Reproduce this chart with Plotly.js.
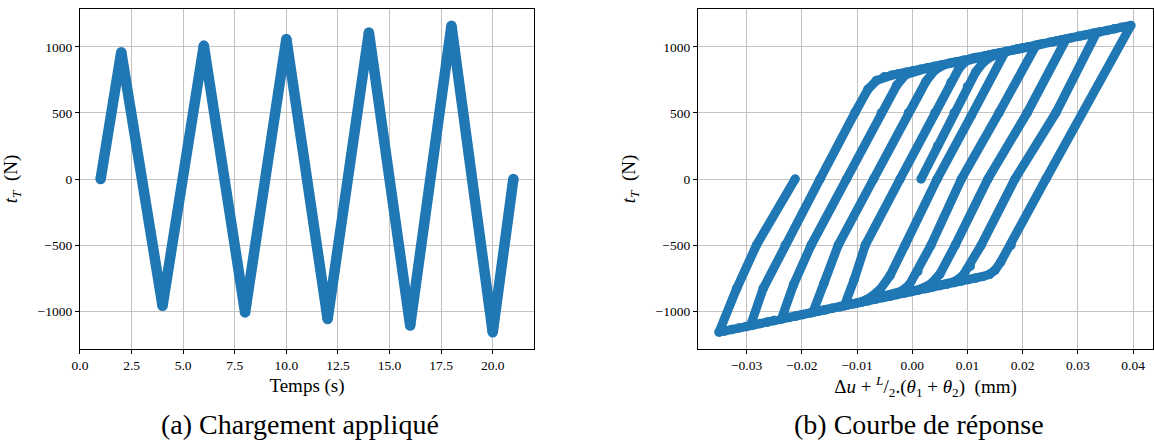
<!DOCTYPE html>
<html>
<head>
<meta charset="utf-8">
<script src="https://cdn.plot.ly/plotly-3.0.1.min.js"></script>
<style>
  html, body { margin: 0; padding: 0; background: #ffffff; }
  #chart { width: 1154px; height: 441px; }
</style>
</head>
<body>
<div id="chart"></div>
<script>
// ---------- (a) Applied loading ----------
const loadTime = [1, 2, 4, 6, 8, 10, 12, 14, 16, 18, 20, 21];
const loadForce = [0, 960, -960, 1010, -1010, 1060, -1060, 1110, -1110, 1160, -1160, 0];

// ---------- (b) Response curve: branches ----------
// initial loading 0 -> +960
const brI_x = [0.0016, 0.0046, 0.0076, 0.0100, 0.0115, 0.0128, 0.0142, 0.0155, 0.0168];
const brI_y = [0, 250, 500, 700, 810, 880, 925, 945, 960];
// +960 -> -960
const brD1_x = [0.0107, 0.0045, -0.0013, -0.0040, -0.0058, -0.0075, -0.0095, -0.0123];
const brD1_y = [480, 0, -500, -730, -835, -895, -935, -960];
// -960 -> +1010
const brA1_x = [-0.0105, -0.0085, -0.0022, 0.0041, 0.0070, 0.0085, 0.0098, 0.0115, 0.0140, 0.0170, 0.0200, 0.0224];
const brA1_y = [-760, -500, 0, 500, 730, 840, 895, 920, 940, 965, 992, 1010];
// +1010 -> -1010
const brD2_x = [0.0157, 0.0089, 0.0034, 0.0010, -0.0005, -0.0020, -0.0040, -0.0070, -0.0100, -0.0130, -0.0155, -0.0180];
const brD2_y = [500, 0, -500, -700, -800, -850, -878, -905, -939, -966, -988, -1010];
// -1010 -> +1060
const brA2_x = [-0.0160, -0.0134, -0.0070, -0.0007, 0.0025, 0.0040, 0.0055, 0.0075, 0.0110, 0.0150, 0.0190, 0.0230, 0.0255, 0.0279];
const brA2_y = [-790, -500, 0, 500, 740, 820, 860, 882, 914, 949, 984, 1018, 1040, 1060];
// +1060 -> -1060
const brD3_x = [0.0208, 0.0137, 0.0078, 0.0050, 0.0035, 0.0020, 0.0000, -0.0040, -0.0080, -0.0120, -0.0160, -0.0200, -0.0237];
const brD3_y = [500, 0, -500, -720, -790, -825, -850, -886, -921, -956, -992, -1027, -1060];
// -1060 -> +1110
const brA3_x = [-0.0215, -0.0183, -0.0119, -0.0056, -0.0028, -0.0012, 0.0005, 0.0030, 0.0070, 0.0110, 0.0150, 0.0190, 0.0230, 0.0270, 0.0305, 0.0334];
const brA3_y = [-800, -500, 0, 500, 710, 790, 818, 843, 878, 914, 949, 984, 1018, 1053, 1083, 1110];
// +1110 -> -1110
const brD4_x = [0.0260, 0.0186, 0.0125, 0.0105, 0.0092, 0.0078, 0.0060, 0.0030, -0.0010, -0.0050, -0.0090, -0.0130, -0.0170, -0.0210, -0.0250, -0.0293];
const brD4_y = [500, 0, -500, -660, -730, -775, -797, -825, -860, -895, -930, -966, -1001, -1036, -1072, -1110];
// -1110 -> +1160 (upper envelope dots)
const brA4_x = [-0.0270, -0.0230, -0.0167, -0.0104, -0.0080, -0.0065, -0.0050, -0.0037, -0.0024, -0.0011, 0.0002, 0.0015,
  0.0028, 0.0041, 0.0054, 0.0067, 0.0080, 0.0093, 0.0106, 0.0119, 0.0132, 0.0145, 0.0158, 0.0171, 0.0184, 0.0197,
  0.0210, 0.0223, 0.0236, 0.0249, 0.0262, 0.0275, 0.0288, 0.0301, 0.0314, 0.0327, 0.0340, 0.0353, 0.0366, 0.0379, 0.0396];
const brA4_y = [-830, -500, 0, 500, 680, 745, 775, 786, 797, 809, 820, 831,
  843, 854, 865, 876, 888, 899, 910, 922, 933, 944, 956, 967, 978, 990,
  1001, 1012, 1024, 1035, 1046, 1057, 1069, 1080, 1091, 1103, 1114, 1125, 1137, 1148, 1163];
// +1160 -> -1160 (lower envelope dots)
const brD5_x = [0.0242, 0.0179, 0.0160, 0.0150, 0.0140, 0.0128, 0.0115, 0.0102, 0.0089, 0.0076, 0.0063, 0.0050, 0.0037,
  0.0024, 0.0011, -0.0002, -0.0015, -0.0028, -0.0041, -0.0054, -0.0067, -0.0080, -0.0093, -0.0106, -0.0119, -0.0132,
  -0.0145, -0.0158, -0.0171, -0.0184, -0.0197, -0.0210, -0.0223, -0.0236, -0.0249, -0.0262, -0.0275, -0.0288,
  -0.0301, -0.0314, -0.0327, -0.0340, -0.0350];
const brD5_y = [0, -500, -630, -690, -722, -738, -750, -761, -773, -784, -796, -807, -819,
  -830, -842, -853, -865, -876, -888, -899, -911, -922, -934, -945, -956, -968,
  -979, -991, -1002, -1014, -1025, -1037, -1048, -1060, -1071, -1083, -1094, -1106,
  -1117, -1128, -1140, -1151, -1160];
// -1160 -> 0 (final)
const brA5_x = [-0.0318, -0.0282, -0.0212];
const brA5_y = [-830, -500, 0];

const respX = [].concat(brI_x, brD1_x, brA1_x, brD2_x, brA2_x, brD3_x, brA3_x, brD4_x, brA4_x, brD5_x, brA5_x);
const respY = [].concat(brI_y, brD1_y, brA1_y, brD2_y, brA2_y, brD3_y, brA3_y, brD4_y, brA4_y, brD5_y, brA5_y);

const blue = '#1f77b4';
const tickFont = { family: 'Liberation Serif, serif', size: 13.5, color: '#000' };
const titleFont = { family: 'Liberation Serif, serif', size: 19, color: '#000' };

const traces = [
  { x: loadTime, y: loadForce, type: 'scatter', mode: 'lines+markers',
    line: { color: blue, width: 10.5 }, marker: { color: blue, size: 10.5 },
    xaxis: 'x', yaxis: 'y', hoverinfo: 'skip', showlegend: false },
  { x: respX, y: respY, type: 'scatter', mode: 'lines+markers',
    line: { color: blue, width: 9 }, marker: { color: blue, size: 9.5 },
    xaxis: 'x2', yaxis: 'y2', hoverinfo: 'skip', showlegend: false }
];

function axisBase() {
  return {
    showgrid: true, gridcolor: '#bdbdbd', gridwidth: 0.9,
    zeroline: false, showline: true, linecolor: '#000', linewidth: 1.1, mirror: true,
    ticks: 'outside', ticklen: 4, tickwidth: 1, tickcolor: '#000',
    tickfont: tickFont
  };
}

const layout = {
  width: 1154, height: 441,
  margin: { l: 0, r: 0, t: 0, b: 0 },
  paper_bgcolor: '#fff', plot_bgcolor: '#fff',
  showlegend: false,
  xaxis: Object.assign(axisBase(), {
    domain: [0.06932, 0.46274], range: [0, 22], tick0: 0, dtick: 2.5, tickformat: '.1f',
    anchor: 'y', title: { text: 'Temps (s)', font: titleFont, standoff: 6 }
  }),
  yaxis: Object.assign(axisBase(), {
    domain: [0.20862, 0.97959], range: [-1287, 1287], tick0: 0, dtick: 500,
    anchor: 'x', title: { text: '<i>t</i><sub><i>T</i></sub>  (N)', font: titleFont, standoff: 14 }
  }),
  xaxis2: Object.assign(axisBase(), {
    domain: [0.60485, 0.99913], range: [-0.0388, 0.0436], tick0: 0, dtick: 0.01, tickformat: '.2f',
    anchor: 'y2',
    title: { text: 'Δ<i>u</i> + <sup><i>L</i></sup>/<sub>2</sub>.(<i>θ</i><sub>1</sub> + <i>θ</i><sub>2</sub>)  (mm)', font: titleFont, standoff: 6 }
  }),
  yaxis2: Object.assign(axisBase(), {
    domain: [0.20862, 0.97959], range: [-1287, 1287], tick0: 0, dtick: 500,
    anchor: 'x2', title: { text: '<i>t</i><sub><i>T</i></sub>  (N)', font: titleFont, standoff: 14 }
  }),
  annotations: [
    { text: '(a) Chargement appliqué', xref: 'paper', yref: 'paper', x: 300 / 1154, y: (441 - 424) / 441,
      xanchor: 'center', yanchor: 'middle', showarrow: false,
      font: { family: 'Liberation Serif, Times New Roman, serif', size: 28, color: '#000' } },
    { text: '(b) Courbe de réponse', xref: 'paper', yref: 'paper', x: 919 / 1154, y: (441 - 424) / 441,
      xanchor: 'center', yanchor: 'middle', showarrow: false,
      font: { family: 'Liberation Serif, Times New Roman, serif', size: 28, color: '#000' } }
  ]
};

Plotly.newPlot('chart', traces, layout, { staticPlot: true, displayModeBar: false });
</script>
</body>
</html>
